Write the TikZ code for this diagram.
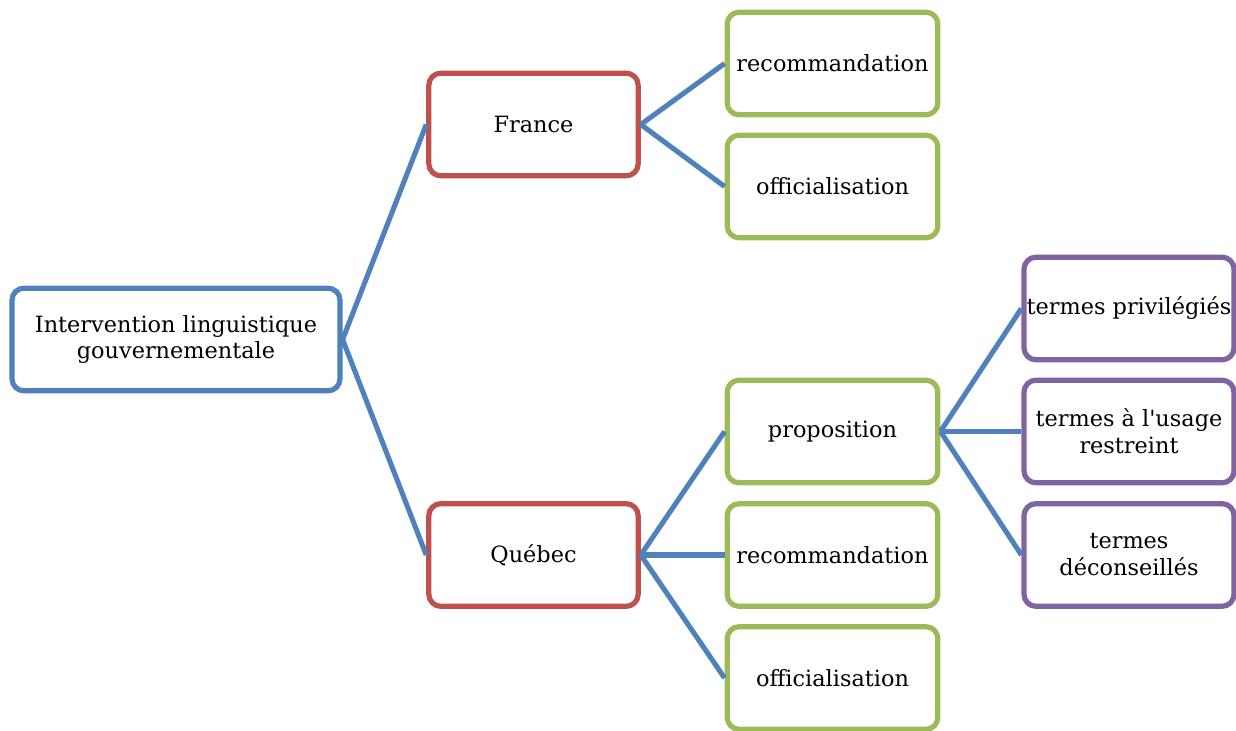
\documentclass[tikz,border=0pt]{standalone}
\usepackage{fontspec}
\setmainfont{DejaVu Serif}
\definecolor{cblue}{HTML}{4F81BD}
\definecolor{cred}{HTML}{C0504D}
\definecolor{cgreen}{HTML}{9BBB59}
\definecolor{cpurple}{HTML}{8064A2}
\tikzset{
  box/.style={draw, line width=3.9pt, rounded corners=9pt, fill=white,
    minimum height=77pt, align=center, inner sep=0pt,
    font=\fontsize{16.8}{20.2}\selectfont},
  rootbox/.style={box, draw=cblue, minimum width=246pt},
  countrybox/.style={box, draw=cred, minimum width=157pt},
  greenbox/.style={box, draw=cgreen, minimum width=158pt},
  purplebox/.style={box, draw=cpurple, minimum width=157.5pt},
  link/.style={draw=cblue, line width=3.8pt}
}
\begin{document}
\begin{tikzpicture}[x=0.75pt,y=-0.75pt]
\useasboundingbox (0,0) rectangle (1236,731);
\node[rootbox] (root) at (176,339.5) {Intervention linguistique\\gouvernementale};
\node[countrybox] (fr) at (533.5,124.5) {France};
\node[countrybox] (qc) at (533.5,555) {Québec};
\node[greenbox] (rec1) at (832.5,63.5) {recommandation};
\node[greenbox] (off1) at (832.5,186.5) {officialisation};
\node[greenbox] (prop) at (832.5,431.5) {proposition};
\node[greenbox] (rec2) at (832.5,555) {recommandation};
\node[greenbox] (off2) at (832.5,678) {officialisation};
\node[purplebox] (tp) at (1129,308.5) {termes privilégiés};
\node[purplebox] (tu) at (1129,431.5) {termes à l\textquotesingle usage\\restreint};
\node[purplebox] (td) at (1129,555) {termes\\déconseillés};
\draw[link] (root.east) -- (fr.west);
\draw[link] (root.east) -- (qc.west);
\draw[link] (fr.east) -- (rec1.west);
\draw[link] (fr.east) -- (off1.west);
\draw[link] (qc.east) -- (prop.west);
\draw[link] (qc.east) -- (rec2.west);
\draw[link] (qc.east) -- (off2.west);
\draw[link] (prop.east) -- (tp.west);
\draw[link] (prop.east) -- (tu.west);
\draw[link] (prop.east) -- (td.west);
\end{tikzpicture}
\end{document}
